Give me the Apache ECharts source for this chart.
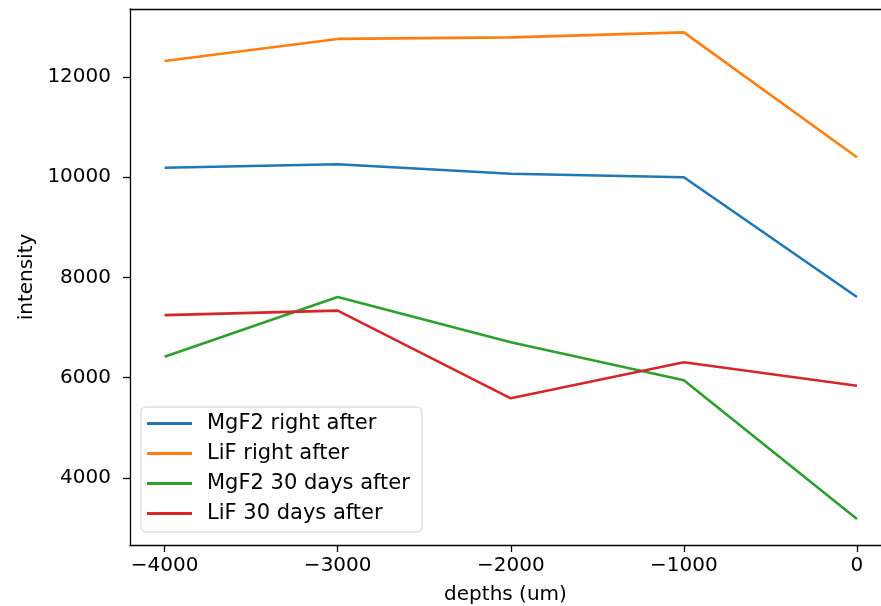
<!DOCTYPE html>
<html>
<head>
<meta charset="utf-8">
<script src="https://cdn.jsdelivr.net/npm/echarts@6/dist/echarts.min.js"></script>
<style>
  html, body { margin: 0; padding: 0; background: #fff; }
  #chart { width: 881px; height: 606px; }
</style>
</head>
<body>
<div id="chart"></div>
<script>
// depth positions (um)
const depths = [-4000, -3000, -2000, -1000, 0];

// measured intensity per sample
const mgf2RightAfter = [10190, 10260, 10070, 10000, 7610];
const lifRightAfter = [12320, 12760, 12790, 12890, 10400];
const mgf2ThirtyDays = [6420, 7610, 6710, 5950, 3180];
const lifThirtyDays = [7250, 7340, 5590, 6310, 5840];

const seriesNames = ['MgF2 right after', 'LiF right after', 'MgF2 30 days after', 'LiF 30 days after'];
const seriesColors = ['#1f77b4', '#ff7f0e', '#2ca02c', '#d62728'];
const seriesValues = [mgf2RightAfter, lifRightAfter, mgf2ThirtyDays, lifThirtyDays];

const xTicks = [-4000, -3000, -2000, -1000, 0];
const yTicks = [4000, 6000, 8000, 10000, 12000];

const FONT = 'DejaVu Sans';
const fmt = v => (v < 0 ? '\u2212' + Math.abs(v) : String(v));
const spine = { color: '#000', width: 1.3 };

const chart = echarts.init(document.getElementById('chart'), null, { renderer: 'canvas' });

chart.setOption({
  animation: false,
  backgroundColor: '#ffffff',
  grid: {
    left: 130, right: 0, top: 9, bottom: 61,
    containLabel: false,
    outerBoundsMode: 'none',
    show: false
  },
  legend: {
    orient: 'vertical',
    left: 141, top: 407,
    data: seriesNames.map((n, i) => ({ name: n, icon: 'rect', itemStyle: { color: seriesColors[i] } })),
    itemWidth: 45, itemHeight: 3,
    itemGap: 9,
    padding: [6, 12, 8, 6],
    backgroundColor: 'rgba(255,255,255,0.8)',
    borderColor: '#d0d0d0', borderWidth: 1, borderRadius: 5,
    textStyle: { fontFamily: FONT, fontSize: 21, color: '#000', lineHeight: 21, padding: [0, 0, 0, 10] }
  },
  xAxis: [{
    type: 'value',
    min: -4200, max: 139,
    name: 'depths (um)', nameLocation: 'middle', nameGap: 40,
    nameTextStyle: { fontFamily: FONT, fontSize: 20, color: '#000' },
    axisLine: { show: true, onZero: false, lineStyle: spine },
    axisTick: { show: true, length: 7, lineStyle: spine, customValues: xTicks },
    axisLabel: { fontFamily: FONT, fontSize: 20, color: '#000', margin: 11, customValues: xTicks, formatter: fmt },
    splitLine: { show: false }
  }, {
    // top spine only
    type: 'value',
    position: 'top',
    min: -4200, max: 139,
    axisLine: { show: true, onZero: false, lineStyle: spine },
    axisTick: { show: false },
    axisLabel: { show: false },
    splitLine: { show: false }
  }],
  yAxis: {
    type: 'value',
    min: 2663, max: 13357,
    name: 'intensity', nameLocation: 'middle', nameGap: 92, nameRotate: 90,
    nameTextStyle: { fontFamily: FONT, fontSize: 20, color: '#000' },
    axisLine: { show: true, onZero: false, lineStyle: spine },
    axisTick: { show: true, length: 7, lineStyle: spine, customValues: yTicks },
    axisLabel: { fontFamily: FONT, fontSize: 20, color: '#000', margin: 19, customValues: yTicks, formatter: fmt },
    splitLine: { show: false }
  },
  series: seriesNames.map((name, i) => ({
    name: name,
    type: 'line',
    xAxisIndex: 0,
    data: depths.map((d, j) => [d, seriesValues[i][j]]),
    showSymbol: false,
    symbol: 'none',
    color: seriesColors[i],
    lineStyle: { width: 2.6, color: seriesColors[i] },
    z: 2 + i
  }))
});
</script>
</body>
</html>
